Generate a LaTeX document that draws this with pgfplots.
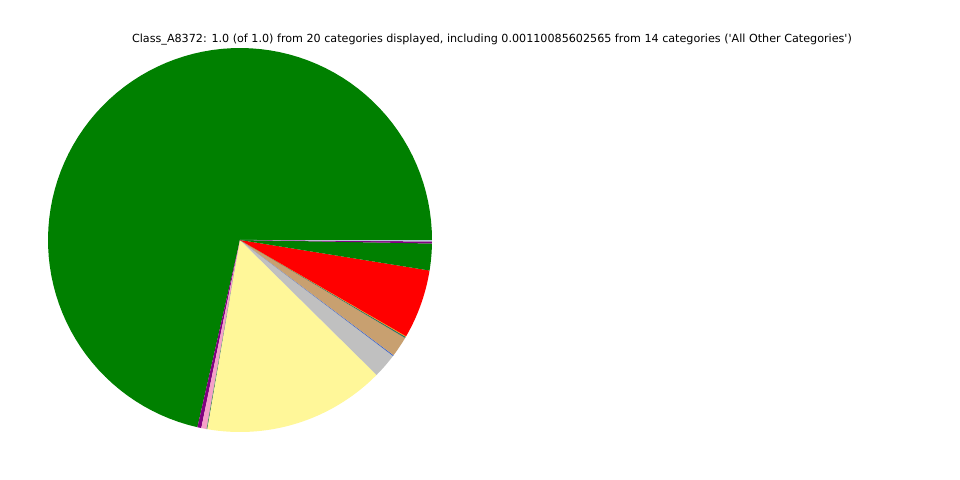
\documentclass[border=0pt]{standalone}
\usepackage{fontspec}
\setmainfont{DejaVu Sans}[Ligatures=TeXOff]
\usepackage{pgfplots}
\pgfplotsset{compat=1.18}
\definecolor{cgreen}{RGB}{0,128,0}
\definecolor{cpurple}{RGB}{128,0,128}
\definecolor{cpink}{RGB}{245,160,200}
\definecolor{cgrn2}{RGB}{90,140,100}
\definecolor{cyellow}{RGB}{255,247,153}
\definecolor{cgrey}{RGB}{192,192,192}
\definecolor{cblue}{RGB}{60,100,200}
\definecolor{ctan}{RGB}{200,160,112}
\definecolor{cteal}{RGB}{50,110,100}
\definecolor{corange}{RGB}{255,150,0}
\definecolor{cred}{RGB}{255,0,0}
\definecolor{cltblue}{RGB}{180,200,215}
\begin{document}
\begin{tikzpicture}
\begin{axis}[
  scale only axis, width=10in, height=5in,
  xmin=0, xmax=960, ymin=0, ymax=480,
  hide axis, clip=false,
]
\path (axis cs:0,0) rectangle (axis cs:960,480);
\def\acc{0}
\foreach \f/\c in {0.7144/cgreen, 0.0033/cpurple, 0.0044/cpink, 0.0008/cgrn2,
  0.1531/cyellow, 0.0208/cgrey, 0.0008/cblue, 0.0172/ctan, 0.0011/cteal,
  0.0006/corange, 0.0581/cred, 0.0225/cgreen, 0.0017/cpurple, 0.0012/cltblue}{
  \pgfmathsetmacro\a{\acc}
  \pgfmathsetmacro\b{\acc+360*\f}
  \edef\tmp{\noexpand\addplot[draw=none, fill=\c, domain=\a:\b, samples=90, variable=\noexpand\t]
    ({240+192*cos(\noexpand\t)},{240+192*sin(\noexpand\t)}) -- (axis cs:240,240) -- cycle;}
  \tmp
  \xdef\acc{\b}
}
\node[font=\fontsize{8.4}{10}\selectfont, anchor=center] at (axis cs:492,440)
  {Class\_A8372: 1.0 (of 1.0) from 20 categories displayed, including 0.00110085602565 from 14 categories ('All Other Categories')};
\end{axis}
\end{tikzpicture}
\end{document}
